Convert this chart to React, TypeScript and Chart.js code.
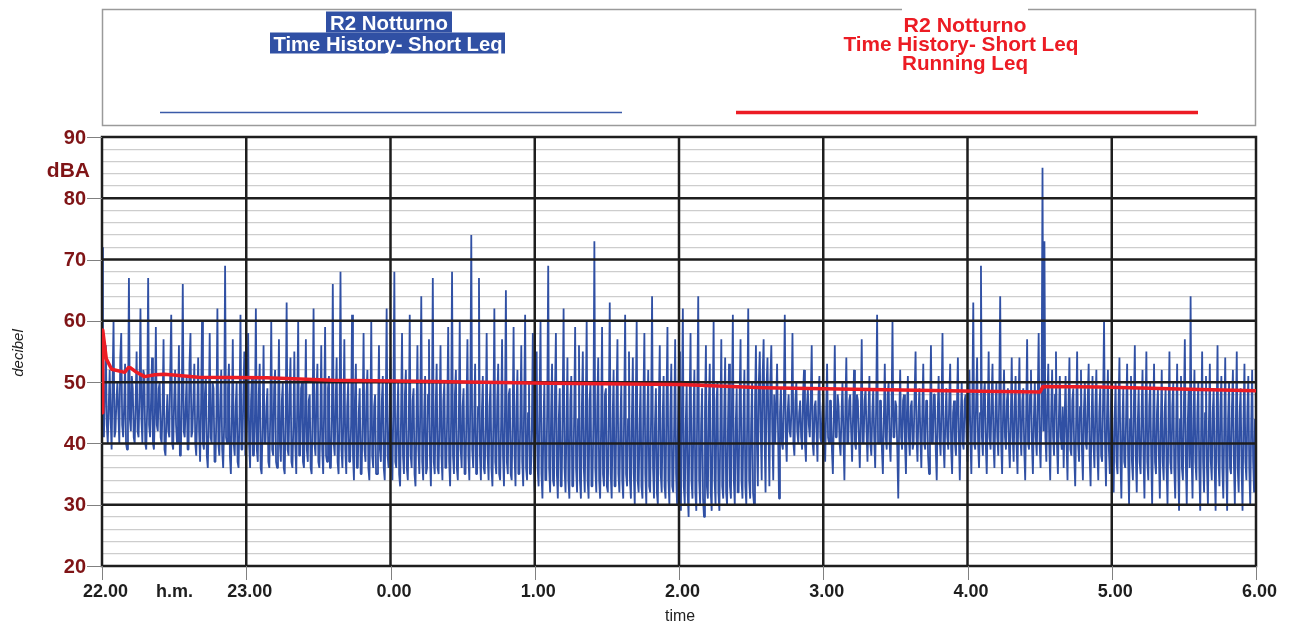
import { useEffect, useRef } from "react";
import { Chart, registerables } from "chart.js";

Chart.register(...registerables);

// Short Leq samples (dBA), one every 0.4 min
const shortLeq22h = [
  72, 45, 41, 48, 56, 43, 40, 46, 52, 44, 39, 50, 60, 41, 42, 47, 50, 45, 40, 54, 58, 43, 41, 46, 53,
  40, 39, 45, 67, 44, 42, 51, 49, 41, 40, 47, 55, 42, 41, 48, 62, 44, 40, 52, 51, 40, 39, 46, 67, 43,
  41, 47, 54, 40, 39, 45, 59, 43, 42, 49, 50, 41, 40, 46, 57, 39, 38, 44, 48, 42, 41, 52, 61, 40, 39,
  47, 52, 43, 40, 45, 56, 38, 38, 48, 66, 42, 41, 46, 51, 39, 39, 53, 58, 41, 42, 47, 53, 40, 38, 45,
  54, 42, 37, 46, 60, 40, 39, 48, 51, 38, 36, 44, 58, 41, 40, 50, 49, 37, 37, 45, 62, 40, 38, 47, 52,
  39, 36, 43, 69, 41, 40, 49, 53, 38, 35, 44, 57, 40, 38, 46, 50, 37, 36, 45, 61, 39, 39, 48, 55, 38,
];
const shortLeq23h = [
  39, 45, 58, 40, 36, 47, 51, 38, 38, 44, 62, 39, 37, 48, 53, 36, 35, 43, 56, 40, 40, 46, 49, 37, 36,
  45, 60, 39, 38, 49, 52, 37, 36, 44, 57, 40, 37, 47, 50, 36, 35, 45, 63, 39, 38, 48, 54, 37, 36, 43,
  55, 40, 35, 46, 60, 38, 38, 49, 50, 37, 36, 44, 57, 39, 37, 47, 48, 36, 35, 45, 62, 40, 38, 48, 53,
  37, 36, 43, 56, 39, 35, 46, 59, 38, 37, 49, 51, 36, 36, 44, 66, 40, 38, 47, 54, 37, 35, 45, 68, 39,
  36, 44, 57, 39, 35, 46, 50, 37, 37, 43, 61, 38, 34, 47, 53, 36, 36, 45, 49, 35, 35, 44, 58, 39, 37,
  48, 52, 36, 34, 43, 60, 38, 36, 46, 48, 35, 35, 44, 56, 39, 37, 47, 51, 36, 34, 45, 62, 38, 36, 44,
];
const shortLeq00h = [
  54, 39, 34, 46, 68, 37, 36, 44, 50, 35, 33, 45, 58, 38, 35, 48, 52, 36, 34, 43, 61, 38, 36, 47, 49,
  35, 33, 44, 56, 39, 35, 46, 64, 37, 34, 45, 51, 35, 36, 48, 57, 38, 33, 44, 67, 37, 35, 46, 53, 36,
  35, 44, 56, 38, 34, 47, 50, 36, 36, 45, 59, 37, 33, 44, 68, 38, 35, 48, 52, 36, 34, 43, 60, 39, 36,
  46, 49, 35, 35, 45, 57, 38, 34, 47, 74, 39, 36, 44, 53, 35, 35, 46, 67, 38, 34, 45, 51, 36, 35, 43,
  58, 38, 34, 46, 50, 36, 33, 44, 62, 37, 35, 47, 53, 35, 34, 43, 57, 38, 33, 45, 65, 37, 35, 48, 49,
  35, 34, 44, 59, 38, 33, 46, 52, 35, 35, 44, 56, 37, 33, 47, 61, 36, 34, 45, 50, 35, 35, 43, 58, 37,
];
const shortLeq01h = [
  32, 44, 55, 36, 33, 47, 60, 35, 31, 43, 50, 34, 34, 46, 69, 36, 32, 45, 53, 34, 33, 48, 58, 35, 31,
  44, 49, 33, 33, 46, 62, 36, 32, 43, 54, 34, 31, 47, 51, 33, 33, 45, 59, 36, 32, 44, 56, 34, 31, 46,
  55, 36, 32, 45, 60, 34, 31, 47, 50, 33, 33, 44, 73, 36, 32, 46, 54, 34, 31, 43, 59, 35, 33, 48, 49,
  33, 32, 45, 63, 35, 31, 44, 52, 33, 33, 47, 57, 35, 32, 43, 50, 34, 31, 46, 61, 35, 33, 44, 55, 34,
  31, 44, 54, 35, 30, 46, 60, 34, 32, 43, 50, 33, 31, 47, 58, 35, 30, 44, 52, 33, 32, 45, 64, 36, 31,
  43, 49, 32, 30, 46, 56, 35, 32, 44, 51, 33, 31, 47, 59, 34, 30, 45, 53, 33, 32, 43, 57, 35, 30, 44,
];
const shortLeq02h = [
  55, 34, 29, 45, 62, 33, 30, 43, 50, 32, 28, 46, 58, 34, 31, 44, 52, 32, 29, 47, 64, 34, 30, 43, 49,
  31, 28, 45, 56, 33, 31, 46, 53, 32, 29, 44, 60, 34, 30, 47, 50, 32, 29, 43, 57, 33, 31, 45, 54, 32,
  30, 44, 53, 33, 31, 46, 61, 34, 30, 43, 49, 32, 32, 47, 57, 34, 31, 44, 52, 33, 30, 45, 62, 34, 31,
  43, 50, 32, 30, 46, 56, 40, 33, 50, 55, 42, 34, 51, 57, 41, 32, 49, 54, 43, 33, 50, 56, 42, 34, 48,
  40, 46, 53, 42, 31, 45, 49, 40, 39, 47, 61, 41, 37, 45, 48, 42, 41, 46, 58, 40, 38, 47, 50, 42, 40,
  45, 47, 41, 39, 48, 52, 40, 37, 46, 49, 43, 41, 47, 56, 40, 38, 46, 47, 42, 37, 48, 51, 41, 40, 45,
];
const shortLeq03h = [
  48, 42, 37, 45, 53, 41, 40, 47, 47, 39, 35, 44, 56, 41, 41, 48, 46, 40, 38, 45, 50, 41, 34, 46, 54,
  40, 40, 47, 48, 42, 37, 45, 52, 40, 39, 48, 47, 41, 36, 44, 57, 40, 40, 47, 49, 42, 37, 45, 51, 40,
  38, 45, 49, 41, 36, 46, 61, 40, 40, 47, 47, 39, 35, 44, 53, 41, 39, 48, 50, 40, 37, 45, 60, 41, 41,
  47, 46, 39, 31, 44, 52, 41, 39, 47, 48, 40, 35, 45, 51, 41, 38, 46, 47, 39, 40, 48, 55, 41, 37, 45,
  49, 41, 36, 45, 53, 40, 39, 47, 47, 38, 35, 44, 56, 40, 40, 48, 48, 39, 34, 45, 51, 41, 38, 46, 58,
  40, 36, 44, 49, 41, 39, 47, 53, 39, 35, 45, 47, 40, 38, 46, 54, 41, 34, 44, 50, 40, 39, 47, 48, 41,
];
const shortLeq04h = [
  37, 45, 52, 41, 35, 46, 63, 40, 39, 47, 54, 40, 36, 45, 69, 41, 38, 48, 50, 40, 35, 44, 55, 41, 39,
  47, 53, 40, 36, 45, 50, 41, 38, 48, 64, 40, 35, 45, 52, 41, 39, 47, 49, 40, 36, 44, 54, 41, 37, 46,
  51, 40, 35, 46, 54, 41, 38, 47, 49, 39, 34, 45, 57, 40, 39, 48, 52, 40, 35, 44, 50, 41, 38, 47, 58,
  40, 36, 45, 85, 42, 73, 41, 37, 47, 53, 40, 34, 45, 52, 41, 38, 48, 55, 40, 35, 44, 51, 41, 39, 46,
  36, 44, 51, 40, 34, 46, 54, 39, 38, 47, 49, 38, 33, 44, 55, 40, 37, 46, 52, 39, 34, 45, 50, 40, 39,
  47, 53, 38, 33, 44, 51, 40, 36, 46, 52, 39, 34, 45, 49, 38, 37, 47, 60, 40, 33, 44, 52, 39, 35, 45,
];
const shortLeq05h = [
  52, 38, 32, 44, 50, 37, 35, 46, 54, 38, 31, 43, 49, 37, 36, 45, 53, 38, 30, 44, 51, 37, 34, 46, 56,
  38, 32, 43, 49, 37, 35, 45, 52, 38, 31, 44, 55, 37, 34, 46, 50, 38, 30, 43, 53, 37, 35, 45, 49, 38,
  31, 43, 52, 37, 34, 45, 49, 36, 30, 44, 55, 37, 35, 46, 50, 36, 31, 43, 53, 37, 29, 44, 51, 36, 34,
  46, 57, 37, 30, 43, 49, 36, 64, 38, 31, 44, 52, 37, 34, 45, 50, 36, 29, 43, 55, 37, 32, 45, 51, 36,
  30, 43, 53, 37, 34, 45, 49, 36, 29, 44, 56, 37, 33, 46, 51, 36, 31, 43, 54, 37, 29, 44, 50, 36, 35,
  46, 52, 37, 30, 43, 55, 36, 32, 45, 49, 36, 29, 44, 53, 37, 34, 45, 51, 36, 30, 43, 52, 37, 32, 44,
];
const MINUTES_PER_SAMPLE = 0.4;

// Running Leq (minutes after 22.00, dBA)
const runningMinutes = [0, 0.3, 1.8, 4, 9.5, 11, 12, 14, 17.7, 22, 26, 32, 40, 68.6, 96, 137.7, 186.4, 240.4, 275, 319.5, 365.2, 390.2, 391.4, 415.1, 456.7, 480];
const runningLeq = [45, 58.5, 53.8, 52.1, 51.6, 52.4, 52.3, 51.7, 50.9, 51.2, 51.3, 51.1, 50.8, 50.7, 50.3, 50.1, 49.8, 49.6, 49.1, 48.8, 48.5, 48.4, 49.3, 49.2, 48.8, 48.6];

const yMajorTicks = [20, 30, 40, 50, 60, 70, 80, 90];
const xTickMinutes = [0, 60, 120, 180, 240, 300, 360, 420, 480];
const xTickLabels = ["22.00", "23.00", "0.00", "1.00", "2.00", "3.00", "4.00", "5.00", "6.00"];

const leftLegendLines = ["R2 Notturno", "Time History- Short Leq"];
const rightLegendLines = ["R2 Notturno", "Time History- Short Leq", "Running Leq"];

const BLUE = "rgb(48,80,164)";
const RED = "#ec1c24";
const DARK_RED = "#7f1416";
const SANS = '"Liberation Sans", Arial, sans-serif';

function fitted(ctx: CanvasRenderingContext2D, text: string, cx: number, base: number, w: number, font: string, color: string) {
  ctx.save();
  ctx.font = font;
  const nat = ctx.measureText(text).width;
  ctx.translate(cx, base);
  ctx.scale(w / nat, 1);
  ctx.fillStyle = color;
  ctx.textAlign = "center";
  ctx.textBaseline = "alphabetic";
  ctx.fillText(text, 0, 0);
  ctx.restore();
}

export default function App() {
  const ref = useRef<HTMLCanvasElement>(null);

  useEffect(() => {
    const canvas = ref.current;
    if (!canvas) return;
    const shortLeq = [
      ...shortLeq22h, ...shortLeq23h, ...shortLeq00h, ...shortLeq01h,
      ...shortLeq02h, ...shortLeq03h, ...shortLeq04h, ...shortLeq05h,
    ];
    const blueData = shortLeq.map((v, i) => ({ x: i * MINUTES_PER_SAMPLE, y: v }));
    const redData = runningMinutes.map((m, i) => ({ x: m, y: runningLeq[i] }));

    const decor = {
      id: "decor",
      beforeDraw(chart: any) {
        const ctx = chart.ctx as CanvasRenderingContext2D;
        ctx.save();
        ctx.fillStyle = "#fff";
        ctx.fillRect(0, 0, chart.width, chart.height);
        ctx.restore();
      },
      beforeDatasetDraw(chart: any, args: any) {
        if (args.index !== 0) return;
        const ctx = chart.ctx as CanvasRenderingContext2D;
        const { left, right, top, bottom } = chart.chartArea;
        const x = chart.scales.x;
        const y = chart.scales.y;
        ctx.save();
        ctx.strokeStyle = "#1e1e1e";
        ctx.lineWidth = 2.5;
        ctx.lineCap = "square";
        ctx.beginPath();
        yMajorTicks.forEach((v) => {
          const py = y.getPixelForValue(v);
          ctx.moveTo(left, py);
          ctx.lineTo(right, py);
        });
        xTickMinutes.forEach((m) => {
          const px = x.getPixelForValue(m);
          ctx.moveTo(px, top);
          ctx.lineTo(px, bottom);
        });
        ctx.stroke();
        ctx.restore();
      },
      afterDraw(chart: any) {
        const ctx = chart.ctx as CanvasRenderingContext2D;
        const { left, bottom } = chart.chartArea;
        const x = chart.scales.x;
        const y = chart.scales.y;
        ctx.save();
        // tick marks
        ctx.strokeStyle = "#808080";
        ctx.lineWidth = 1;
        ctx.beginPath();
        yMajorTicks.forEach((v) => {
          const py = Math.round(y.getPixelForValue(v)) + 0.5;
          ctx.moveTo(87, py);
          ctx.lineTo(left, py);
        });
        xTickMinutes.forEach((m) => {
          const px = Math.round(x.getPixelForValue(m)) + 0.5;
          ctx.moveTo(px, bottom);
          ctx.lineTo(px, bottom + 14);
        });
        ctx.stroke();

        // y labels
        ctx.fillStyle = DARK_RED;
        ctx.font = `bold 20px ${SANS}`;
        ctx.textAlign = "right";
        ctx.textBaseline = "middle";
        yMajorTicks.forEach((v) => {
          ctx.fillText(String(v), 86, y.getPixelForValue(v) + 1);
        });
        ctx.font = `bold 21px ${SANS}`;
        ctx.fillText("dBA", 90, 171);

        // x labels
        ctx.fillStyle = "#1e1e1e";
        ctx.font = `bold 18px ${SANS}`;
        ctx.textAlign = "center";
        xTickMinutes.forEach((m, i) => {
          ctx.fillText(xTickLabels[i], x.getPixelForValue(m) + 3.5, 592);
        });
        ctx.fillText("h.m.", 174.5, 592);

        fitted(ctx, "time", 680, 621, 30, `16px ${SANS}`, "#222");

        ctx.save();
        ctx.translate(19, 353);
        ctx.rotate(-Math.PI / 2);
        ctx.font = `italic 15px ${SANS}`;
        ctx.fillStyle = "#222";
        ctx.textAlign = "center";
        ctx.textBaseline = "middle";
        ctx.fillText("decibel", 0, 0);
        ctx.restore();

        // legend box
        ctx.strokeStyle = "#9a9a9a";
        ctx.lineWidth = 1.5;
        ctx.strokeRect(102.5, 9.5, 1153, 116);
        ctx.fillStyle = "#fff";
        ctx.fillRect(902, 6, 126, 26);

        // left legend
        ctx.fillStyle = BLUE;
        ctx.fillRect(326, 11.5, 126, 21);
        ctx.fillRect(270, 32.5, 235, 21);
        const lf = `bold 21px ${SANS}`;
        fitted(ctx, leftLegendLines[0], 389, 30, 118, lf, "#fff");
        fitted(ctx, leftLegendLines[1], 388, 51, 229, lf, "#fff");
        ctx.strokeStyle = "#3a5aa8";
        ctx.lineWidth = 1.5;
        ctx.beginPath();
        ctx.moveTo(160, 112.5);
        ctx.lineTo(622, 112.5);
        ctx.stroke();

        // right legend
        fitted(ctx, rightLegendLines[0], 965, 31.5, 123, lf, RED);
        fitted(ctx, rightLegendLines[1], 961, 50.5, 235, lf, RED);
        fitted(ctx, rightLegendLines[2], 965, 70, 126, lf, RED);
        ctx.strokeStyle = RED;
        ctx.lineWidth = 3.5;
        ctx.beginPath();
        ctx.moveTo(736, 112.5);
        ctx.lineTo(1198, 112.5);
        ctx.stroke();
        ctx.restore();
      },
    };

    const chart = new Chart(canvas, {
      type: "line",
      data: {
        datasets: [
          {
            label: "Running Leq",
            data: redData,
            borderColor: RED,
            borderWidth: 3.5,
            borderJoinStyle: "round",
            pointRadius: 0,
            fill: false,
          },
          {
            label: "Time History- Short Leq",
            data: blueData,
            borderColor: BLUE,
            borderWidth: 1.8,
            borderJoinStyle: "bevel",
            pointRadius: 0,
            fill: false,
          },
        ],
      },
      options: {
        responsive: false,
        animation: false,
        devicePixelRatio: 1,
        layout: { padding: { left: 102, right: 33, top: 137, bottom: 60 } },
        plugins: { legend: { display: false }, tooltip: { enabled: false } },
        scales: {
          x: {
            type: "linear",
            min: 0,
            max: 480,
            ticks: { display: false, stepSize: 60 },
            grid: { display: false, drawTicks: false },
            border: { display: false },
          },
          y: {
            type: "linear",
            min: 20,
            max: 90,
            ticks: { display: false, stepSize: 2, maxTicksLimit: 100 },
            grid: {
              drawTicks: false,
              lineWidth: 1.2,
              color: (c: any) => (c.tick && c.tick.value % 10 === 0 ? "rgba(0,0,0,0)" : "#cdcdcd"),
            },
            border: { display: false },
          },
        },
      } as any,
      plugins: [decor],
    });
    return () => chart.destroy();
  }, []);

  return (
    <div style={{ position: "absolute", left: 0, top: 0, width: 1289, height: 626, background: "#fff" }}>
      <canvas ref={ref} width={1289} height={626} style={{ display: "block" }} />
    </div>
  );
}
